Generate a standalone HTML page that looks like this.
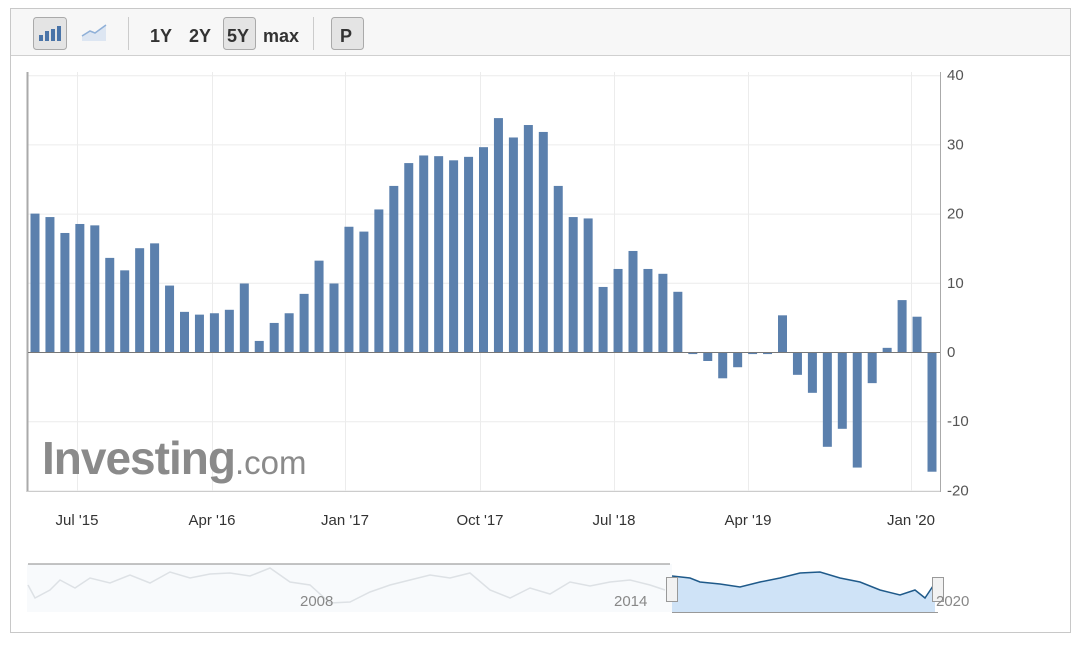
<!DOCTYPE html>
<html><head><meta charset="utf-8"><style>
body{margin:0;background:#fff;width:1080px;height:644px;overflow:hidden;font-family:"Liberation Sans",sans-serif}
</style></head><body>
<svg id="s" width="1080" height="644" xmlns="http://www.w3.org/2000/svg" font-family="Liberation Sans, sans-serif">
<rect x="10.5" y="8.5" width="1060" height="624" fill="#fff" stroke="#c8c8c8"/>
<rect x="11" y="9" width="1059" height="46" fill="#f7f7f7"/>
<line x1="11" y1="55.5" x2="1070" y2="55.5" stroke="#d0d0d0"/>
<rect x="33.5" y="17.5" width="33" height="32" rx="3" fill="#e4e4e4" stroke="#aaa"/>
<rect x="39" y="35" width="4" height="6" fill="#4a74a8"/><rect x="45" y="31" width="4" height="10" fill="#4a74a8"/><rect x="51" y="29" width="4" height="12" fill="#4a74a8"/><rect x="57" y="26" width="4" height="15" fill="#4a74a8"/>
<path d="M82 36 L90 31 L95 33 L106 25 L106 41 L82 41Z" fill="#dde6f2"/>
<path d="M82 36 L90 31 L95 33 L106 25" fill="none" stroke="#8fb0d8" stroke-width="1.5"/>
<line x1="128.5" y1="17" x2="128.5" y2="50" stroke="#ccc"/>
<text x="150" y="42" font-size="18" font-weight="bold" fill="#333">1Y</text>
<text x="189" y="42" font-size="18" font-weight="bold" fill="#333">2Y</text>
<rect x="223.5" y="17.5" width="32" height="32" rx="3" fill="#e4e4e4" stroke="#aaa"/>
<text x="227" y="42" font-size="18" font-weight="bold" fill="#333">5Y</text>
<text x="263" y="42" font-size="18" font-weight="bold" fill="#333">max</text>
<line x1="313.5" y1="17" x2="313.5" y2="50" stroke="#ccc"/>
<rect x="331.5" y="17.5" width="32" height="32" rx="3" fill="#e4e4e4" stroke="#aaa"/>
<text x="340" y="42" font-size="18" font-weight="bold" fill="#333">P</text>
<g id="grid" stroke="#ececec"></g>
<line x1="27.5" y1="72" x2="27.5" y2="492" stroke="#aaa" stroke-width="2"/>
<line x1="940.5" y1="72" x2="940.5" y2="492" stroke="#aaa"/>
<line x1="27" y1="491.5" x2="940" y2="491.5" stroke="#ccc"/>
<text x="42" y="474" font-size="46" font-weight="bold" fill="#8a8a8a" letter-spacing="-1">Investing<tspan font-size="33" font-weight="normal" letter-spacing="0">.com</tspan></text>
<g id="bars" fill="#5b80ad"></g>
<g id="yl" font-size="15" fill="#555"></g>
<g id="xl" font-size="15" fill="#333" text-anchor="middle"></g>
<rect x="27" y="564" width="645" height="48" fill="#f8fafc"/>
<path d="M28 564 L670 564" stroke="#888"/>
<path d="M28 585 L35 598 L50 590 L60 580 L75 588 L90 578 L110 583 L130 575 L150 583 L170 572 L190 578 L210 574 L230 573 L250 576 L270 568 L290 582 L310 585 L330 603 L350 602 L370 592 L390 585 L410 580 L430 575 L450 578 L470 573 L490 590 L510 598 L530 588 L550 594 L570 582 L590 586 L610 582 L630 580 L650 585 L665 590" fill="none" stroke="#dde1e5" stroke-width="1.5"/>
<path d="M672 576 L690 578 L700 582 L720 584 L740 587 L760 582 L780 578 L800 573 L820 572 L840 578 L860 582 L880 590 L900 595 L915 590 L925 598 L935 583 L935 612 L672 612Z" fill="#cfe3f7"/>
<path d="M672 576 L690 578 L700 582 L720 584 L740 587 L760 582 L780 578 L800 573 L820 572 L840 578 L860 582 L880 590 L900 595 L915 590 L925 598 L935 583" fill="none" stroke="#1f5a8a" stroke-width="1.5"/>
<line x1="672" y1="612.5" x2="938" y2="612.5" stroke="#999"/>
<rect x="666.5" y="577.5" width="11" height="24" fill="#f2f2f2" stroke="#999"/>
<rect x="932.5" y="577.5" width="11" height="24" fill="#f2f2f2" stroke="#999"/>
<text x="300" y="606" font-size="15" fill="#888">2008</text>
<text x="614" y="606" font-size="15" fill="#888">2014</text>
<text x="936" y="606" font-size="15" fill="#888">2020</text>
</svg>
<script>
var v=[20,19.5,17.2,18.5,18.3,13.6,11.8,15,15.7,9.6,5.8,5.4,5.6,6.1,9.9,1.6,4.2,5.6,8.4,13.2,9.9,18.1,17.4,20.6,24,27.3,28.4,28.3,27.7,28.2,29.6,33.8,31,32.8,31.8,24,19.5,19.3,9.4,12,14.6,12,11.3,8.7,-0.3,-1.3,-3.8,-2.2,-0.3,-0.3,5.3,-3.3,-5.9,-13.7,-11.1,-16.7,-4.5,0.6,7.5,5.1,-17.3];
var ns="http://www.w3.org/2000/svg";
function el(t,a,p,txt){var e=document.createElementNS(ns,t);for(var k in a)e.setAttribute(k,a[k]);if(txt)e.textContent=txt;document.getElementById(p).appendChild(e);}
function Y(x){return 352-x*6.92;}
for(var g=-20;g<=40;g+=10){el('line',{x1:28,x2:940,y1:Y(g)+0.5,y2:Y(g)+0.5},'grid');el('text',{x:947,y:Y(g)+5},'yl',''+g);}
var xs=[[77,"Jul '15"],[212,"Apr '16"],[345,"Jan '17"],[480,"Oct '17"],[614,"Jul '18"],[748,"Apr '19"],[911,"Jan '20"]];
xs.forEach(function(p){el('line',{x1:p[0]+.5,x2:p[0]+.5,y1:72,y2:491},'grid');el('text',{x:p[0],y:525},'xl',p[1]);});
v.forEach(function(d,i){var c=35+i*14.95;var y0=Y(Math.max(d,0)),y1=Y(Math.min(d,0));el('rect',{x:c-4.5,y:y0,width:9,height:Math.max(y1-y0,1)},'bars');});
el('line',{x1:28,x2:940,y1:352.5,y2:352.5,stroke:'#777'},'bars');
</script>
</body></html>
